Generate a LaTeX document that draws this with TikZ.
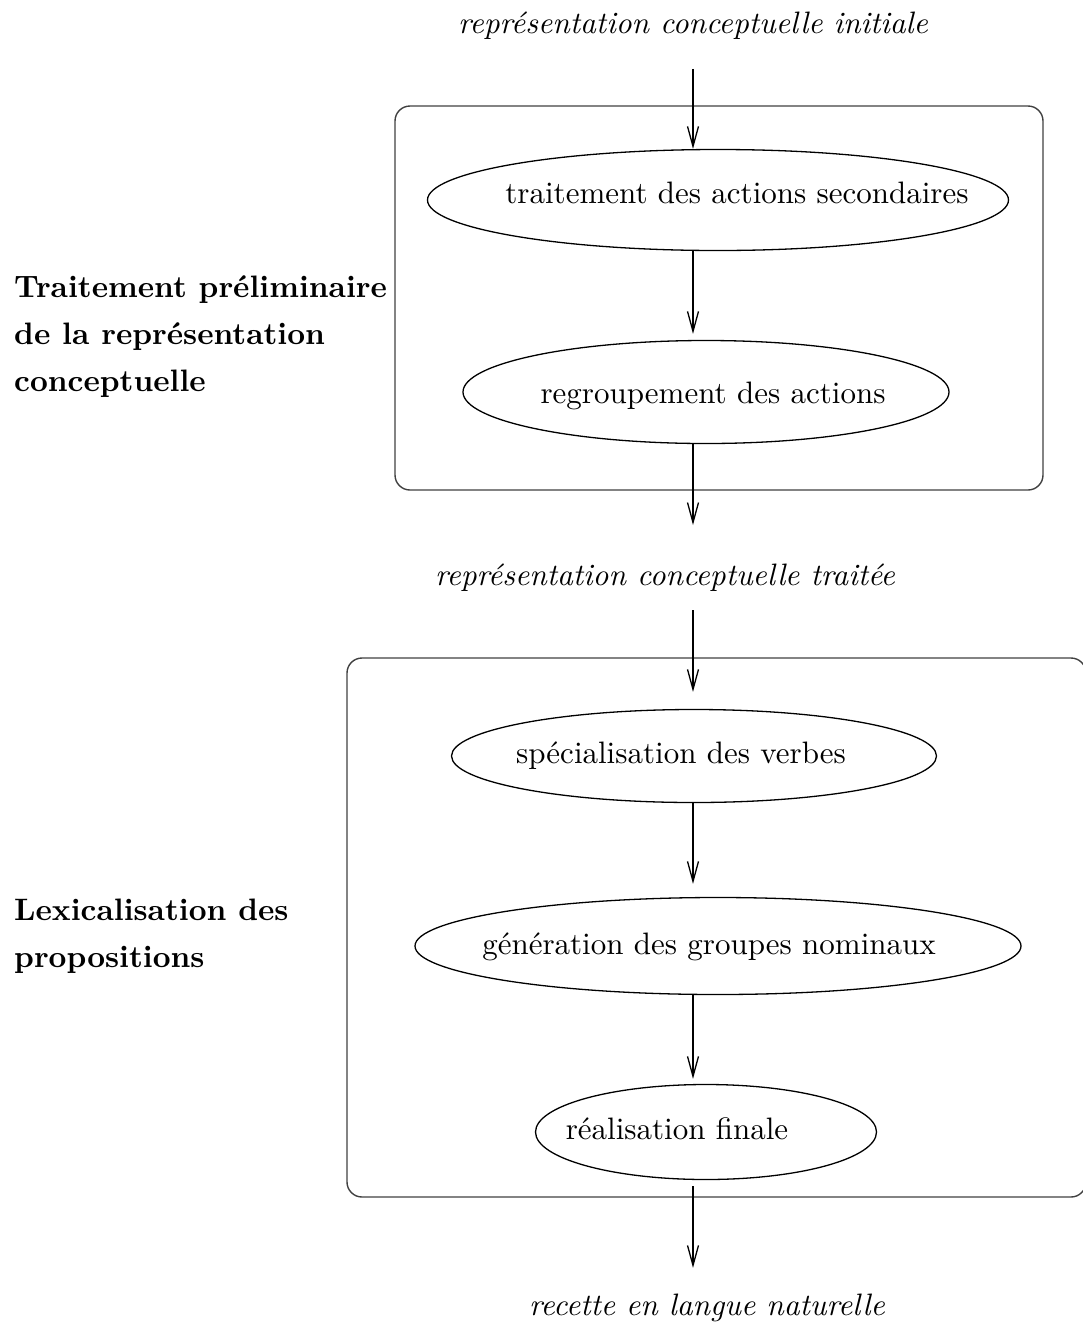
\documentclass[tikz,border=0pt]{standalone}
\usepackage{fontspec}
\setmainfont{lmroman10}[Extension=.otf, UprightFont=*-regular, BoldFont=*-bold,
  ItalicFont=*-italic, BoldItalicFont=*-bolditalic]
\usetikzlibrary{arrows.meta,shapes.geometric}
\begin{document}
\begin{tikzpicture}[x=1pt,y=-1pt,
  txt/.style={font=\fontsize{31}{38}\selectfont, inner sep=0pt},
  io/.style={font=\fontsize{31}{38}\selectfont\itshape, inner sep=0pt},
  phase/.style={font=\fontsize{31}{47}\selectfont\bfseries, align=left, anchor=west, inner sep=0pt},
  stage/.style={draw, ellipse, line width=1.3pt, inner sep=0pt},
  frame/.style={draw=black!75, rounded corners=15pt, line width=1.4pt},
  arr/.style={line width=1.3pt, -{Straight Barb[length=20pt,width=11pt,line width=1.3pt]}}]
\useasboundingbox (0,0) rectangle (1083,1326);

% the main axis along which all connectors run
\coordinate (ax) at (693,0);

% phase frames
\draw[frame] (395,106) rectangle (1043,490);
\draw[frame] (347,658) rectangle (1086,1197);

% inputs and outputs
\node[io] (t1) at (693,26) {représentation conceptuelle initiale};
\node[io] (t2) at (665,578) {représentation conceptuelle traitée};
\node[io] (t3) at (707,1308) {recette en langue naturelle};

% processing stages
\node[stage, minimum width=581pt, minimum height=101pt,
  label={[txt,xshift=19pt,yshift=7pt]center:traitement des actions secondaires}] (e1) at (718,200) {};
\node[stage, minimum width=486pt, minimum height=103pt,
  label={[txt,xshift=7pt,yshift=-4pt]center:regroupement des actions}] (e2) at (706,392) {};
\node[stage, minimum width=485pt, minimum height=93pt,
  label={[txt,xshift=-13pt]center:spécialisation des verbes}] (e3) at (694,756) {};
\node[stage, minimum width=606pt, minimum height=97pt,
  label={[txt,xshift=-9pt,yshift=-1pt]center:génération des groupes nominaux}] (e4) at (718,946) {};
\node[stage, minimum width=341pt, minimum height=95pt,
  label={[txt,xshift=-29pt,yshift=3pt]center:réalisation finale}] (e5) at (706,1132) {};

% phase names
\node[phase] (p1) at (14,337) {Traitement préliminaire\\de la représentation\\conceptuelle};
\node[phase] (p2) at (14,936) {Lexicalisation des\\propositions};

% connectors
\draw[arr, shorten <=29pt] (ax |- t1.south) -- (ax |- e1.north);
\draw[arr, shorten >=6pt] (ax |- e1.south) -- (ax |- e2.north);
\draw[arr, shorten >=39pt] (ax |- e2.south) -- (ax |- t2.north);
\draw[arr, shorten <=18pt, shorten >=17pt] (ax |- t2.south) -- (ax |- e3.north);
\draw[arr, shorten >=13pt] (ax |- e3.south) -- (ax |- e4.north);
\draw[arr, shorten >=5pt] (ax |- e4.south) -- (ax |- e5.north);
\draw[arr, shorten <=6pt, shorten >=26pt] (ax |- e5.south) -- (ax |- t3.north);
\end{tikzpicture}
\end{document}
